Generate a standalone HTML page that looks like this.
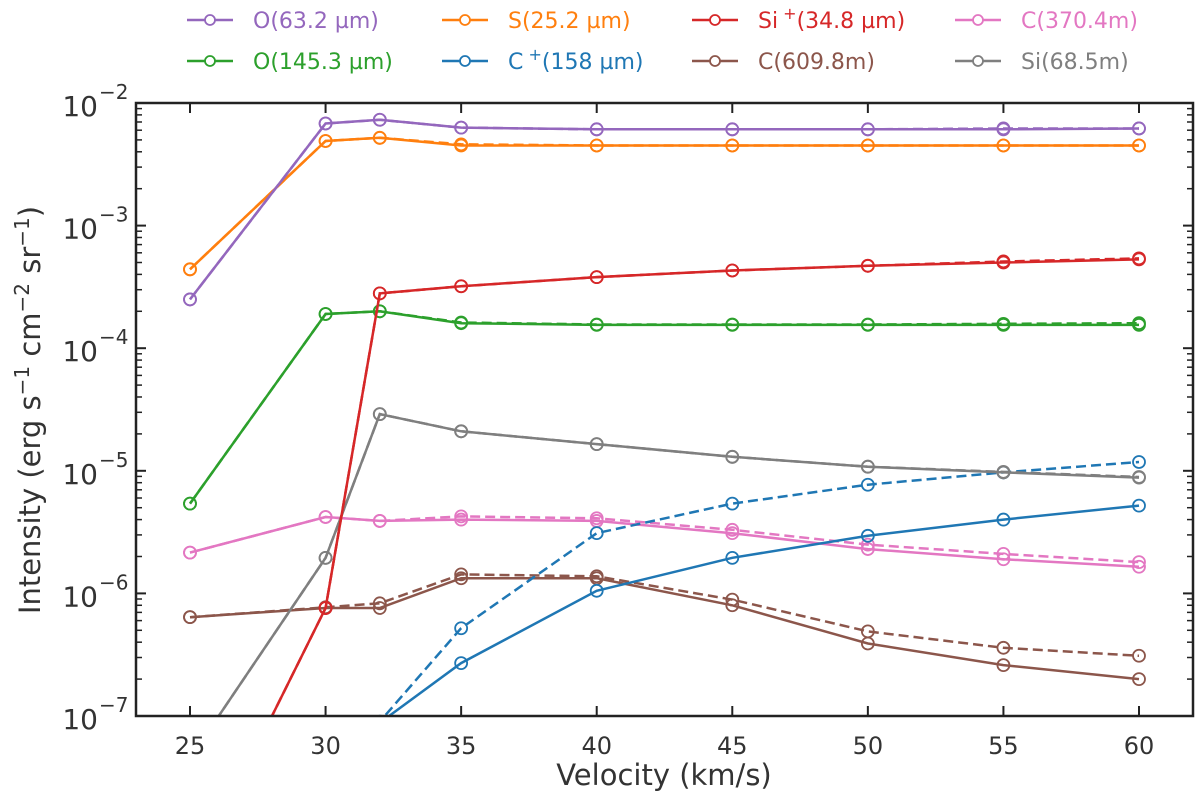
<!DOCTYPE html>
<html><head><meta charset="utf-8"><style>
html,body{margin:0;background:#fff;overflow:hidden;width:1200px;height:806px;}
svg{display:block;}
svg text{font-family:"DejaVu Sans","Liberation Sans",sans-serif;}
</style></head><body>
<svg id="chart" width="1200" height="806" xmlns="http://www.w3.org/2000/svg">
<defs><clipPath id="clip"><rect x="136" y="103" width="1057" height="613"/></clipPath></defs>
<g id="marks" clip-path="url(#clip)"></g>
<g id="axes"></g>
<g id="legend"></g>
</svg>
<script>
const velocities=[25,30,32,35,40,45,50,55,60];
const xTicks=[25,30,35,40,45,50,55,60];
const yTickExps=[-7,-6,-5,-4,-3,-2];
const seriesNames=["O(63.2 µm)","S(25.2 µm)","Si+(34.8 µm)","C(370.4m)","O(145.3 µm)","C+(158 µm)","C(609.8m)","Si(68.5m)"];
const seriesColors=["#9467bd","#ff7f0e","#d62728","#e377c2","#2ca02c","#1f77b4","#8c564b","#7f7f7f"];
const o63Solid=[2.5e-4,6.8e-3,7.3e-3,6.3e-3,6.1e-3,6.1e-3,6.1e-3,6.1e-3,6.2e-3];
const o63Dash=[2.5e-4,6.8e-3,7.3e-3,6.3e-3,6.1e-3,6.1e-3,6.1e-3,6.2e-3,6.2e-3];
const sSolid=[4.4e-4,4.9e-3,5.2e-3,4.5e-3,4.5e-3,4.5e-3,4.5e-3,4.5e-3,4.5e-3];
const sDash=[4.4e-4,4.9e-3,5.2e-3,4.6e-3,4.5e-3,4.5e-3,4.5e-3,4.5e-3,4.5e-3];
const siPlusSolid=[4.5e-9,7.6e-7,2.8e-4,3.2e-4,3.8e-4,4.3e-4,4.7e-4,5.0e-4,5.3e-4];
const siPlusDash=[4.5e-9,7.6e-7,2.8e-4,3.2e-4,3.8e-4,4.3e-4,4.7e-4,5.1e-4,5.4e-4];
const c370Solid=[2.15e-6,4.2e-6,3.9e-6,4.0e-6,3.9e-6,3.1e-6,2.3e-6,1.9e-6,1.65e-6];
const c370Dash=[2.15e-6,4.2e-6,3.9e-6,4.25e-6,4.1e-6,3.3e-6,2.5e-6,2.1e-6,1.8e-6];
const o145Solid=[5.4e-6,1.9e-4,2.0e-4,1.6e-4,1.55e-4,1.55e-4,1.55e-4,1.55e-4,1.55e-4];
const o145Dash=[5.4e-6,1.9e-4,2.0e-4,1.62e-4,1.56e-4,1.56e-4,1.56e-4,1.58e-4,1.6e-4];
const cPlusSolid=[1e-9,3e-8,8.8e-8,2.7e-7,1.05e-6,1.95e-6,2.95e-6,4.0e-6,5.2e-6];
const cPlusDash=[1e-9,3e-8,9e-8,5.2e-7,3.1e-6,5.4e-6,7.7e-6,9.7e-6,1.18e-5];
const c609Solid=[6.4e-7,7.6e-7,7.6e-7,1.33e-6,1.33e-6,8e-7,3.9e-7,2.6e-7,2.0e-7];
const c609Dash=[6.4e-7,7.7e-7,8.3e-7,1.43e-6,1.38e-6,8.9e-7,4.9e-7,3.6e-7,3.1e-7];
const siSolid=[4.5e-8,1.95e-6,2.9e-5,2.1e-5,1.65e-5,1.3e-5,1.08e-5,9.7e-6,8.8e-6];
const siDash=[4.5e-8,1.95e-6,2.9e-5,2.1e-5,1.65e-5,1.3e-5,1.08e-5,9.8e-6,8.9e-6];

const NS="http://www.w3.org/2000/svg";
const X0=136,X1=1193,Y0=103,Y1=716;
function xs(v){return 190+(v-25)*(1139-190)/35;}
function ys(v){return Y1-(Math.log10(v)+7)*(Y1-Y0)/5;}
function mk(tag,attrs,parent){const e=document.createElementNS(NS,tag);for(const k in attrs)e.setAttribute(k,attrs[k]);parent.appendChild(e);return e;}
const marks=document.getElementById('marks'),axes=document.getElementById('axes'),legend=document.getElementById('legend');

const series=[
 [c609Dash,6,true],[c609Solid,6,false],[c370Dash,3,true],[c370Solid,3,false],
 [cPlusDash,5,true],[cPlusSolid,5,false],[siDash,7,true],[siSolid,7,false],
 [o145Dash,4,true],[o145Solid,4,false],[siPlusDash,2,true],[siPlusSolid,2,false],
 [sDash,1,true],[sSolid,1,false],[o63Dash,0,true],[o63Solid,0,false]];
series.forEach(([vals,ci,dash])=>{
  const col=seriesColors[ci];
  const pts=vals.map((v,i)=>xs(velocities[i]).toFixed(1)+","+ys(v).toFixed(1)).join(" ");
  const pl=mk('polyline',{points:pts,fill:'none',stroke:col,'stroke-width':2.5},marks);
  if(dash)pl.setAttribute('stroke-dasharray','10,5');
  
  
  vals.forEach((v,i)=>{
    const c=mk('circle',{cx:xs(velocities[i]),cy:ys(v),r:6,fill:'none',stroke:col,'stroke-width':1.8},marks);
    
    
  });
});

const fr=mk('rect',{x:X0,y:Y0,width:X1-X0,height:Y1-Y0,fill:'none',stroke:'#222','stroke-width':2.5},axes);


xTicks.forEach(t=>{
  const x=xs(t);
  mk('line',{x1:x,x2:x,y1:Y1,y2:Y1-10,stroke:'#222','stroke-width':2},axes);
  mk('line',{x1:x,x2:x,y1:Y0,y2:Y0+10,stroke:'#222','stroke-width':2},axes);
  const tx=mk('text',{x:x,y:Y1+38,'text-anchor':'middle','font-size':24,fill:'#333'},axes);
  tx.textContent=t;
  
  
});
yTickExps.forEach(e=>{
  const y=ys(Math.pow(10,e));
  mk('line',{x1:X0,x2:X0+10,y1:y,y2:y,stroke:'#222','stroke-width':2},axes);
  mk('line',{x1:X1,x2:X1-10,y1:y,y2:y,stroke:'#222','stroke-width':2},axes);
  if(e<-2){for(let m=2;m<=9;m++){const ym=ys(m*Math.pow(10,e));
    mk('line',{x1:X0,x2:X0+6,y1:ym,y2:ym,stroke:'#222','stroke-width':1.5},axes);
    mk('line',{x1:X1,x2:X1-6,y1:ym,y2:ym,stroke:'#222','stroke-width':1.5},axes);}}
  const tx=mk('text',{x:98,y:y+13,'text-anchor':'end','font-size':28,fill:'#333'},axes);
  tx.textContent='10';
  
  
  const sup=mk('text',{x:99,y:y-4,'font-size':20,fill:'#333'},axes);
  sup.textContent='\u2212'+(-e);
});
const xt=mk('text',{x:664,y:785,'text-anchor':'middle','font-size':29,fill:'#333'},axes);
xt.textContent='Velocity (km/s)';


const yt=mk('text',{x:0,y:0,'text-anchor':'middle','font-size':29,fill:'#333',transform:'translate(40,410) rotate(-90)'},axes);
yt.innerHTML='Intensity (erg s<tspan dy="-11" font-size="20">\u22121</tspan><tspan dy="11"> cm</tspan><tspan dy="-11" font-size="20">\u22122</tspan><tspan dy="11"> sr</tspan><tspan dy="-11" font-size="20">\u22121</tspan><tspan dy="11">)</tspan>';



const legX=[187,442,692,955],legY=[20,61];
const legOrder=[[0,0,0],[4,0,1],[1,1,0],[5,1,1],[2,2,0],[6,2,1],[3,3,0],[7,3,1]];
legOrder.forEach(([si,c,r])=>{
  const col=seriesColors[si],x=legX[c],y=legY[r];
  const g=mk('g',{},legend);
  
  
  mk('line',{x1:x,x2:x+46,y1:y,y2:y,stroke:col,'stroke-width':2.5},g);
  mk('circle',{cx:x+23,cy:y,r:5,fill:'#fff',stroke:col,'stroke-width':1.8},g);
  const t=mk('text',{x:x+66,y:y+8,'font-size':22,fill:col},g);
  const nm=seriesNames[si];
  if(nm.includes('+')){const p=nm.split('+');t.innerHTML=p[0]+'<tspan dy="-9" font-size="16"> +</tspan><tspan dy="9">'+p[1]+'</tspan>';}
  else t.textContent=nm;
});
</script>
</body></html>
